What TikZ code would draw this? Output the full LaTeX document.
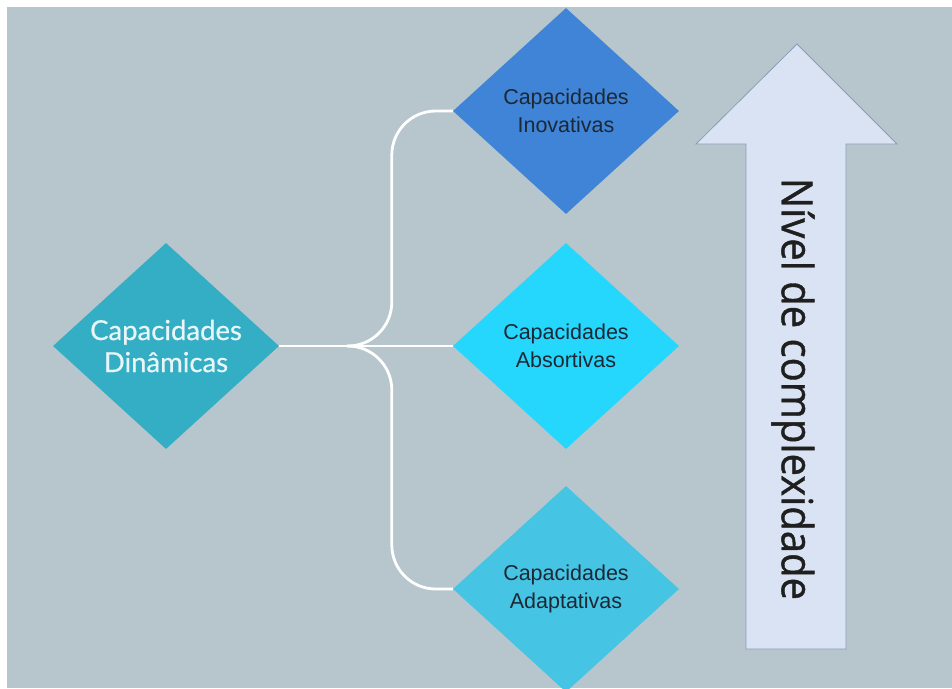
\documentclass[tikz,border=0pt]{standalone}
\usepackage{fontspec}
\setmainfont{Liberation Sans}
\newfontfamily\latofont[FakeBold=0.6]{Lato}
\newfontfamily\opensansfont[FakeStretch=0.93,FakeBold=0.9]{Open Sans}
\usetikzlibrary{shapes.geometric}
\definecolor{bgblue}{RGB}{182,198,204}
\definecolor{dyncol}{RGB}{51,174,196}
\definecolor{dyntext}{RGB}{232,246,248}
\definecolor{inocol}{RGB}{64,132,215}
\definecolor{abscol}{RGB}{37,214,253}
\definecolor{adacol}{RGB}{69,196,228}
\definecolor{capstext}{RGB}{28,40,52}
\definecolor{arrowfill}{RGB}{218,227,243}
\definecolor{arrowdraw}{RGB}{138,156,184}
\begin{document}
\begin{tikzpicture}[x=1pt,y=-1pt,
    capbox/.style={diamond, inner sep=0pt, aspect=1.1, minimum width=226pt, minimum height=206pt,
        align=center, text=capstext, font=\fontsize{21.5}{28}\selectfont},
    link/.style={draw=white, line width=2.8pt, rounded corners=44pt}]
\useasboundingbox (0,0) rectangle (952,688);
\fill[bgblue] (7,7) rectangle (952,688);
% the four capacities
\node[capbox, fill=dyncol, text=dyntext, font=\latofont\fontsize{27.5}{32}\selectfont] (dyn) at (166,346) {Capacidades\\Dinâmicas};
\node[capbox, fill=inocol] (ino) at (566,111) {Capacidades\\Inovativas};
\node[capbox, fill=abscol] (abs) at (566,346) {Capacidades\\Absortivas};
\node[capbox, fill=adacol] (ada) at (566,589) {Capacidades\\Adaptativas};
% branches
\coordinate (split) at ([xshift=68pt]dyn.east);
\draw[link] (dyn.east) -- (abs.west);
\draw[link] (split) -| ([xshift=-61pt]ino.west) -- (ino.west);
\draw[link] (split) -| ([xshift=-61pt]ada.west) -- (ada.west);
% complexity arrow
\draw[arrowdraw, fill=arrowfill, line width=0.8pt]
    (797,44) -- (897,144) -- (846,144) -- (846,649) -- (746,649) -- (746,144) -- (696,144) -- cycle;
\node[rotate=-90, text=black!88, font=\opensansfont\fontsize{43}{50}\selectfont] (level) at (793,389) {Nível de complexidade};
\end{tikzpicture}
\end{document}
